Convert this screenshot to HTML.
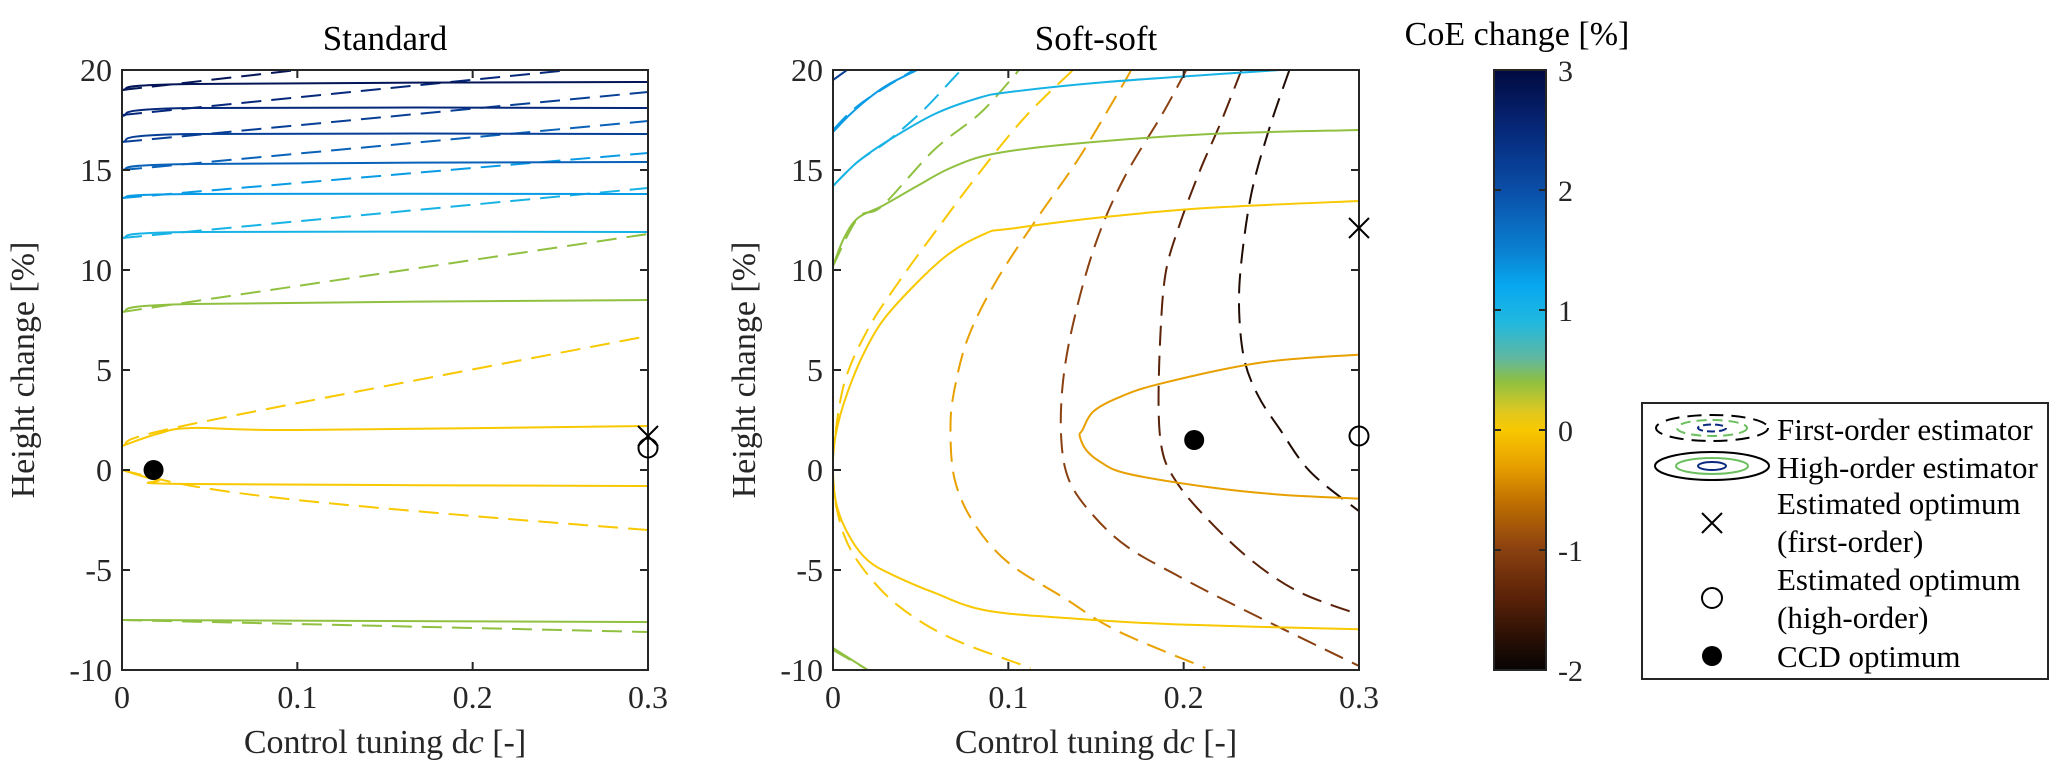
<!DOCTYPE html>
<html><head><meta charset="utf-8">
<style>
html,body{margin:0;padding:0;background:#fff;}
svg{display:block;font-family:"Liberation Serif","DejaVu Serif",serif;}
</style></head>
<body>
<svg id="fig" width="2067" height="781" viewBox="0 0 2067 781" xmlns="http://www.w3.org/2000/svg">
<defs>
<linearGradient id="cbgrad" x1="0" y1="1" x2="0" y2="0"></linearGradient>
</defs>
<g id="root"></g>
</svg>
<script>
// ---------- data ----------
const xTicks = [0, 0.1, 0.2, 0.3];
const xTickLabels = ["0", "0.1", "0.2", "0.3"];
const yTicks = [-10, -5, 0, 5, 10, 15, 20];
const yTickLabels = ["-10", "-5", "0", "5", "10", "15", "20"];
const cbTicks = [-2, -1, 0, 1, 2, 3];
const cbTickLabels = ["-2", "-1", "0", "1", "2", "3"];

// Standard panel: solid (high-order) contours
const stdSolidLevels = [2.8, 2.5, 2.2, 1.8, 1.3, 1.0, 0.4, 0, 0, 0.4];
const stdSolidX = [
 [0,0.04,0.3],[0,0.04,0.3],[0,0.04,0.3],[0,0.04,0.3],[0,0.04,0.3],[0,0.04,0.3],
 [0,0.04,0.3],[0,0.02,0.04,0.1,0.3],[0,0.02,0.04,0.3],[0,0.3]];
const stdSolidY = [
 [19.0,19.3,19.4],[17.7,18.1,18.1],[16.4,16.8,16.8],[15.0,15.3,15.4],[13.6,13.8,13.8],[11.6,11.9,11.9],
 [7.9,8.3,8.5],[1.2,1.8,2.1,2.0,2.2],[0,-0.5,-0.7,-0.8],[-7.5,-7.6]];
// Standard panel: dashed (first-order) contours
const stdDashLevels = [2.8, 2.5, 2.2, 1.8, 1.3, 1.0, 0.4, 0, 0, 0.4];
const stdDashX = [
 [0,0.1],[0,0.25],[0,0.3],[0,0.3],[0,0.3],[0,0.3],[0,0.3],[0,0.04,0.3],[0,0.04,0.1,0.2,0.3],[0,0.1,0.3]];
const stdDashY = [
 [19.0,20.0],[17.75,19.95],[16.4,18.9],[15.0,17.45],[13.6,15.85],[11.6,14.1],[7.9,11.8],[1.2,2.3,6.7],[0,-0.8,-1.5,-2.3,-3.0],[-7.5,-7.7,-8.1]];

// Soft-soft panel: solid contours
const ssSolidLevels = [2.2, 1.3, 1.0, 0.4, 0, -0.3, 0.4];
const ssSolidX = [
 [0,0.008],
 [0,0.010,0.022,0.032,0.048],
 [0,0.014,0.032,0.058,0.083,0.101,0.156,0.255],
 [0,0.0063,0.0142,0.028,0.048,0.067,0.091,0.136,0.215,0.3],
 [0.3,0.2152,0.1561,0.1009,0.0871,0.0635,0.0339,0.0201,0.0083,0.0014,0,0.0024,0.0102,0.0201,0.0339,0.0576,0.0871,0.136,0.1955,0.3],
 [0.3,0.2448,0.1856,0.162,0.1482,0.1423,0.1407,0.1443,0.1522,0.1679,0.2152,0.2547,0.3],
 [0,0.018]];
const ssSolidY = [
 [19.5,20],
 [16.9,17.8,18.7,19.3,20],
 [14.2,15.4,16.5,17.8,18.6,18.9,19.4,20.0],
 [10.2,11.6,12.6,13.2,14.2,15.1,15.8,16.3,16.8,17.0],
 [13.45,13.11,12.66,12.06,11.83,10.63,8.06,6.27,3.89,1.71,-0.08,-1.87,-3.45,-4.54,-5.24,-6.13,-7.02,-7.42,-7.72,-7.96],
 [5.77,5.38,4.29,3.59,2.9,2.0,1.71,1.01,0.42,-0.18,-0.87,-1.23,-1.43],
 [-8.9,-9.9]];
// Soft-soft panel: dashed contours
const ssDashLevels = [1.3, 1.0, 0.4, 0, -0.3, -1.0, -1.4, -1.8, 0.4];
const ssDashX = [
 [0,0.01,0.022,0.046],
 [0,0.014,0.032,0.0516,0.0694,0.0733],
 [0,0.0142,0.028,0.0576,0.0832,0.1009,0.106],
 [0.1364,0.1088,0.0812,0.0576,0.0378,0.0201,0.0063,0,0,0.0063,0.0181,0.0378,0.0674,0.1127],
 [0.1699,0.166,0.1403,0.1167,0.093,0.0773,0.0694,0.067,0.0694,0.0804,0.1001,0.1324,0.1616,0.2124],
 [0.2015,0.1877,0.166,0.1502,0.1384,0.1315,0.1301,0.1345,0.1483,0.168,0.1956,0.235,0.3],
 [0.233,0.2212,0.2094,0.1975,0.1897,0.1867,0.1857,0.1877,0.1936,0.2074,0.235,0.2645,0.3],
 [0.2603,0.2485,0.2386,0.2327,0.2317,0.2347,0.2426,0.2544,0.2721,0.3],
 [0,0.02]];
const ssDashY = [
 [17.0,17.9,18.7,20],
 [14.2,15.4,16.5,18.0,19.66,20],
 [10.2,12.6,13.2,16.0,17.78,19.46,20],
 [19.96,17.58,14.6,11.83,9.44,7.06,4.29,0.71,-0.87,-3.25,-5.04,-6.83,-8.41,-9.9],
 [20.0,19.37,15.6,12.62,9.44,6.67,4.09,2.1,-0.48,-2.66,-4.64,-6.43,-8.02,-9.9],
 [20,17.78,14.6,11.43,7.86,4.68,1.71,-0.48,-2.26,-3.85,-5.24,-7.02,-9.8],
 [20,17.38,14.99,12.22,9.84,6.67,3.1,1.0,-0.28,-1.87,-4.25,-6.04,-7.23],
 [20,16.98,13.81,10.24,7.86,5.48,3.69,2.1,-0.08,-2.06],
 [-9.0,-10]];

// markers [x, y]
const stdCross = [0.3, 1.7];
const stdCircle = [0.3, 1.1];
const stdDot = [0.018, 0.0];
const ssCross = [0.3, 12.1];
const ssCircle = [0.3, 1.7];
const ssDot = [0.206, 1.5];

// colormap stops (value -> colour)
const cmapVals = [-2, -1.8, -1.4, -1, -0.6, -0.3, 0, 0.15, 0.4, 0.6, 0.9, 1.2, 1.5, 2, 2.5, 3];
const cmapCols = ["#080404","#200c04","#5a2208","#8a4010","#c07000","#e8a000","#f8c800","#e0c820","#90c040","#60b8a0","#20b8e0","#08a8f0","#0a80d0","#0a4ea8","#06287a","#020a40"];

// ---------- helpers ----------
const NS = "http://www.w3.org/2000/svg";
const root = document.getElementById("root");
function mk(tag, attrs, parent) {
  const e = document.createElementNS(NS, tag);
  for (const k in attrs) e.setAttribute(k, attrs[k]);
  (parent || root).appendChild(e);
  return e;
}
function hex(c){return [parseInt(c.substr(1,2),16),parseInt(c.substr(3,2),16),parseInt(c.substr(5,2),16)];}
function cmap(v){
  if (v <= cmapVals[0]) return cmapCols[0];
  for (let i=1;i<cmapVals.length;i++){
    if (v <= cmapVals[i]){
      const t=(v-cmapVals[i-1])/(cmapVals[i]-cmapVals[i-1]);
      const a=hex(cmapCols[i-1]), b=hex(cmapCols[i]);
      return "rgb("+a.map((q,j)=>Math.round(q+(b[j]-q)*t)).join(",")+")";
    }
  }
  return cmapCols[cmapCols.length-1];
}
function smoothPath(P){
  if (P.length < 3) return "M" + P.map(p => p[0].toFixed(1) + "," + p[1].toFixed(1)).join("L");
  let d = "M" + P[0][0].toFixed(1) + "," + P[0][1].toFixed(1);
  for (let i = 0; i < P.length - 1; i++) {
    const p0 = P[Math.max(0, i - 1)], p1 = P[i], p2 = P[i + 1], p3 = P[Math.min(P.length - 1, i + 2)];
    const c1 = [p1[0] + (p2[0] - p0[0]) / 6, p1[1] + (p2[1] - p0[1]) / 6];
    const c2 = [p2[0] - (p3[0] - p1[0]) / 6, p2[1] - (p3[1] - p1[1]) / 6];
    d += "C" + c1[0].toFixed(1) + "," + c1[1].toFixed(1) + " " + c2[0].toFixed(1) + "," + c2[1].toFixed(1) + " " + p2[0].toFixed(1) + "," + p2[1].toFixed(1);
  }
  return d;
}
const Y0 = 70, Y1 = 670;
function makeAxes(x0, x1) {
  return {
    sx: v => x0 + (v - 0) / 0.3 * (x1 - x0),
    sy: v => Y0 + (20 - v) / 30 * (Y1 - Y0),
    x0, x1
  };
}

function drawPanel(ax, name, title, solidL, solidX, solidY, dashL, dashX, dashY, cross, circ, dot, ylabX) {
  const g = mk("g", {});
  
  
  const clipId = name + "-clip";
  const cp = mk("clipPath", {id: clipId}, g);
  mk("rect", {x: ax.x0, y: Y0, width: ax.x1 - ax.x0, height: Y1 - Y0}, cp);
  const lines = mk("g", {"clip-path": "url(#" + clipId + ")"}, g);
  
  
  for (let i = 0; i < dashL.length; i++) {
    const P = dashX[i].map((x, j) => [ax.sx(x), ax.sy(dashY[i][j])]);
    const p = mk("path", {d: smoothPath(P), fill: "none", stroke: cmap(dashL[i]), "stroke-width": 2, "stroke-dasharray": "20,10"}, lines);
    
    
  }
  for (let i = 0; i < solidL.length; i++) {
    const P = solidX[i].map((x, j) => [ax.sx(x), ax.sy(solidY[i][j])]);
    const p = mk("path", {d: smoothPath(P), fill: "none", stroke: cmap(solidL[i]), "stroke-width": 2}, lines);
    
    
  }
  const fr = mk("rect", {x: ax.x0, y: Y0, width: ax.x1 - ax.x0, height: Y1 - Y0, fill: "none", stroke: "#262626", "stroke-width": 2}, g);
  
  
  for (let i = 0; i < xTicks.length; i++) {
    const x = ax.sx(xTicks[i]);
    mk("line", {x1: x, x2: x, y1: Y1, y2: Y1 - 8, stroke: "#262626", "stroke-width": 2}, g);
    mk("line", {x1: x, x2: x, y1: Y0, y2: Y0 + 8, stroke: "#262626", "stroke-width": 2}, g);
    const t = mk("text", {x: x, y: 708, "font-size": 32, "text-anchor": "middle", fill: "#262626"}, g);
    t.textContent = xTickLabels[i];
    
    
  }
  for (let i = 0; i < yTicks.length; i++) {
    const y = ax.sy(yTicks[i]);
    mk("line", {x1: ax.x0, x2: ax.x0 + 8, y1: y, y2: y, stroke: "#262626", "stroke-width": 2}, g);
    mk("line", {x1: ax.x1, x2: ax.x1 - 8, y1: y, y2: y, stroke: "#262626", "stroke-width": 2}, g);
    const t = mk("text", {x: ax.x0 - 10, y: y + 11, "font-size": 32, "text-anchor": "end", fill: "#262626"}, g);
    t.textContent = yTickLabels[i];
    
    
  }
  const tt = mk("text", {x: (ax.x0 + ax.x1) / 2, y: 50, "font-size": 35, "text-anchor": "middle", fill: "#000"}, g);
  tt.textContent = title;
  
  
  const xl = mk("text", {x: (ax.x0 + ax.x1) / 2, y: 753, "font-size": 34, "text-anchor": "middle", fill: "#262626"}, g);
  xl.innerHTML = 'Control tuning d<tspan font-style="italic">c</tspan> [-]';
  
  
  const yl = mk("text", {x: ylabX, y: 370, "font-size": 34, "text-anchor": "middle", fill: "#262626", transform: "rotate(-90 " + ylabX + " 370)"}, g);
  yl.textContent = "Height change [%]";
  
  
  const cx = ax.sx(cross[0]), cy = ax.sy(cross[1]);
  const mc = mk("path", {d: `M${cx-10},${cy-10}L${cx+10},${cy+10}M${cx-10},${cy+10}L${cx+10},${cy-10}`, stroke: "#000", "stroke-width": 2, fill: "none"}, g);
  
  
  const mo = mk("circle", {cx: ax.sx(circ[0]), cy: ax.sy(circ[1]), r: 9.5, fill: "none", stroke: "#000", "stroke-width": 2}, g);
  
  
  const md = mk("circle", {cx: ax.sx(dot[0]), cy: ax.sy(dot[1]), r: 10, fill: "#000"}, g);
  
  
}

drawPanel(makeAxes(122, 648), "standard", "Standard", stdSolidLevels, stdSolidX, stdSolidY, stdDashLevels, stdDashX, stdDashY, stdCross, stdCircle, stdDot, 34);
drawPanel(makeAxes(833, 1359), "soft-soft", "Soft-soft", ssSolidLevels, ssSolidX, ssSolidY, ssDashLevels, ssDashX, ssDashY, ssCross, ssCircle, ssDot, 755);

// ---------- colorbar ----------
const grad = document.getElementById("cbgrad");
for (let i = 0; i < cmapVals.length; i++) {
  mk("stop", {offset: ((cmapVals[i] + 2) / 5).toFixed(3), "stop-color": cmapCols[i]}, grad);
}
const cb = mk("g", {});


const cbx0 = 1494, cbx1 = 1546;
const cbY = v => Y0 + (3 - v) / 5 * (Y1 - Y0);
mk("rect", {x: cbx0, y: Y0, width: cbx1 - cbx0, height: Y1 - Y0, fill: "url(#cbgrad)", stroke: "#262626", "stroke-width": 2}, cb);
for (let i = 0; i < cbTicks.length; i++) {
  const y = cbY(cbTicks[i]);
  mk("line", {x1: cbx1 - 7, x2: cbx1, y1: y, y2: y, stroke: "#262626", "stroke-width": 2}, cb);
  mk("line", {x1: cbx0, x2: cbx0 + 7, y1: y, y2: y, stroke: "#262626", "stroke-width": 2}, cb);
  const t = mk("text", {x: cbx1 + 12, y: y + 11, "font-size": 30, fill: "#262626"}, cb);
  t.textContent = cbTickLabels[i];
  
  
}
const cbt = mk("text", {x: 1517, y: 45, "font-size": 34, "text-anchor": "middle", fill: "#000"}, cb);
cbt.textContent = "CoE change [%]";



// ---------- legend ----------
const lg = mk("g", {});


mk("rect", {x: 1642, y: 403, width: 406, height: 276, fill: "#fff", stroke: "#262626", "stroke-width": 2}, lg);
const icx = 1712;
mk("ellipse", {cx: icx, cy: 428, rx: 56, ry: 13, fill: "none", stroke: "#000", "stroke-width": 2, "stroke-dasharray": "14,8"}, lg);
mk("ellipse", {cx: icx, cy: 428, rx: 35, ry: 8, fill: "none", stroke: "#6cc060", "stroke-width": 2, "stroke-dasharray": "10,6"}, lg);
mk("ellipse", {cx: icx, cy: 428, rx: 14, ry: 3.5, fill: "none", stroke: "#0a2a80", "stroke-width": 2, "stroke-dasharray": "8,4"}, lg);
mk("ellipse", {cx: icx, cy: 466, rx: 57, ry: 14, fill: "none", stroke: "#000", "stroke-width": 2}, lg);
mk("ellipse", {cx: icx, cy: 466, rx: 36, ry: 8, fill: "none", stroke: "#6cc060", "stroke-width": 2}, lg);
mk("ellipse", {cx: icx, cy: 466, rx: 14, ry: 4, fill: "none", stroke: "#0a2a80", "stroke-width": 2}, lg);
mk("path", {d: `M${icx-10},513L${icx+10},533M${icx-10},533L${icx+10},513`, stroke: "#000", "stroke-width": 2, fill: "none"}, lg);
mk("circle", {cx: icx, cy: 598, r: 10, fill: "none", stroke: "#000", "stroke-width": 2}, lg);
mk("circle", {cx: icx, cy: 656, r: 10, fill: "#000"}, lg);
const legTexts = [["First-order estimator", 440], ["High-order estimator", 478], ["Estimated optimum", 514], ["(first-order)", 552], ["Estimated optimum", 590], ["(high-order)", 628], ["CCD optimum", 667]];
for (const [s, y] of legTexts) {
  const t = mk("text", {x: 1777, y: y, "font-size": 31, fill: "#000"}, lg);
  t.textContent = s;
  
  
}
</script>
</body></html>
